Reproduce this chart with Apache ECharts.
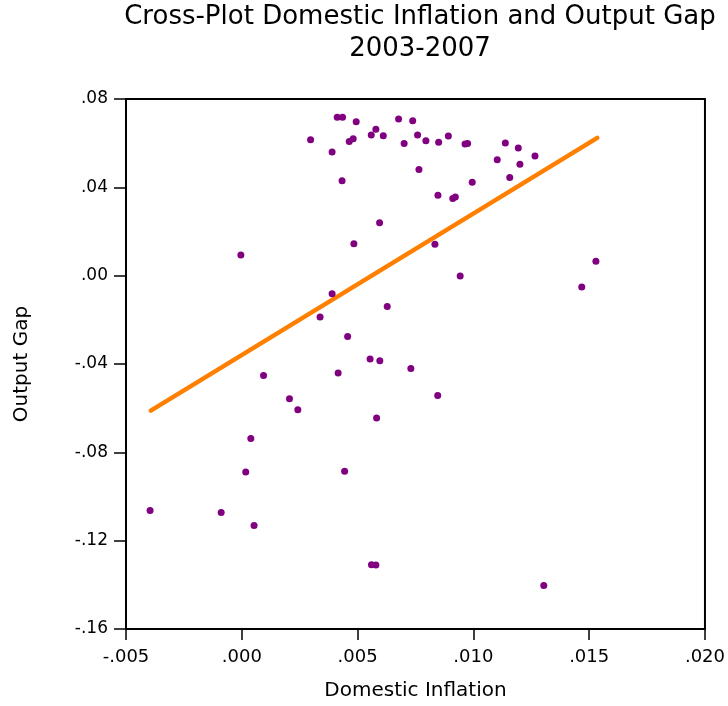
<!DOCTYPE html>
<html><head><meta charset="utf-8">
<script src="https://cdn.jsdelivr.net/npm/echarts@6/dist/echarts.min.js"></script>
<style>html,body{margin:0;padding:0;background:#fff}#c{width:728px;height:706px}</style>
</head><body><div id="c"></div>
<script>
const inflation = [0.00412,0.00435,0.00494,0.00297,0.00464,0.00481,0.00559,0.00579,0.00611,0.00677,
0.00738,0.00701,0.00759,0.00390,0.00765,0.00433,0.00595,0.00484,-0.00004,0.00795,
0.00850,0.00892,0.00964,0.00975,0.01138,0.01194,0.01103,0.01201,0.01266,0.01157,
0.00995,0.00847,0.00911,0.00922,0.00834,0.00943,0.01529,0.01468,0.00390,0.00338,
0.00628,0.00457,0.00554,0.00596,0.00094,0.00416,0.00730,0.00206,0.00242,0.00582,
0.00039,0.00846,0.00017,0.00444,-0.00396,-0.00089,0.00053,0.00560,0.00579,0.01304];
const outputGap = [0.0717,0.0717,0.0697,0.0615,0.0608,0.0620,0.0637,0.0663,0.0634,0.0710,
0.0702,0.0599,0.0637,0.0560,0.0481,0.0430,0.0240,0.0145,0.0094,0.0611,
0.0604,0.0633,0.0596,0.0599,0.0601,0.0578,0.0525,0.0504,0.0542,0.0445,
0.0423,0.0364,0.0350,0.0356,0.0142,-0.0001,0.0065,-0.0051,-0.0082,-0.0187,
-0.0140,-0.0276,-0.0377,-0.0385,-0.0452,-0.0441,-0.0420,-0.0557,-0.0607,-0.0644,
-0.0737,-0.0543,-0.0889,-0.0886,-0.1063,-0.1072,-0.1131,-0.1309,-0.1310,-0.1403];
const fitX = [-0.00393, 0.01535];
const fitY = [-0.0611, 0.0624];
const titleLines = ['Cross-Plot Domestic Inflation and Output Gap', '2003-2007'];

const FONT = 'DejaVu Sans, Liberation Sans, sans-serif';
function fmt(v, d) {
  let s = Math.abs(v).toFixed(d).replace(/^0/, '');
  return (v < -1e-12 ? '-' : '') + s;
}
const chart = echarts.init(document.getElementById('c'));
chart.setOption({
  animation: false,
  backgroundColor: '#fff',
  title: {
    text: titleLines.join('\n'),
    left: 415, textAlign: 'center', top: -4,
    textStyle: { fontFamily: FONT, fontSize: 26, fontWeight: 'normal', color: '#000', lineHeight: 32 }
  },
  grid: { left: 126, right: 23, top: 99, bottom: 77, show: true, borderColor: '#000', borderWidth: 2 },
  xAxis: {
    type: 'value', min: -0.005, max: 0.02, interval: 0.005,
    name: 'Domestic Inflation', nameLocation: 'middle', nameGap: 52,
    nameTextStyle: { fontFamily: FONT, fontSize: 20, color: '#000' },
    axisLine: { show: true, onZero: false, lineStyle: { color: '#000', width: 2 } },
    axisTick: { show: true, length: 11, lineStyle: { color: '#000', width: 1.5 } },
    axisLabel: { color: '#000', fontSize: 18, fontFamily: FONT, margin: 19, formatter: v => fmt(v, 3) },
    splitLine: { show: false }
  },
  yAxis: {
    type: 'value', min: -0.16, max: 0.08, interval: 0.04,
    name: 'Output Gap', nameLocation: 'middle', nameGap: 94,
    nameTextStyle: { fontFamily: FONT, fontSize: 20, color: '#000' },
    axisLine: { show: true, onZero: false, lineStyle: { color: '#000', width: 2 } },
    axisTick: { show: true, length: 12, lineStyle: { color: '#000', width: 1.5 } },
    axisLabel: { color: '#000', fontSize: 17, fontFamily: FONT, margin: 18, formatter: v => fmt(v, 2) },
    splitLine: { show: false }
  },
  series: [
    {
      type: 'line', data: fitX.map((x, i) => [x, fitY[i]]), showSymbol: false,
      lineStyle: { color: '#FF8000', width: 4.5, cap: 'round' }, z: 1
    },
    {
      type: 'scatter', data: inflation.map((x, i) => [x, outputGap[i]]),
      symbolSize: 7, itemStyle: { color: '#800080', opacity: 1 }, z: 2
    }
  ]
});
</script></body></html>
